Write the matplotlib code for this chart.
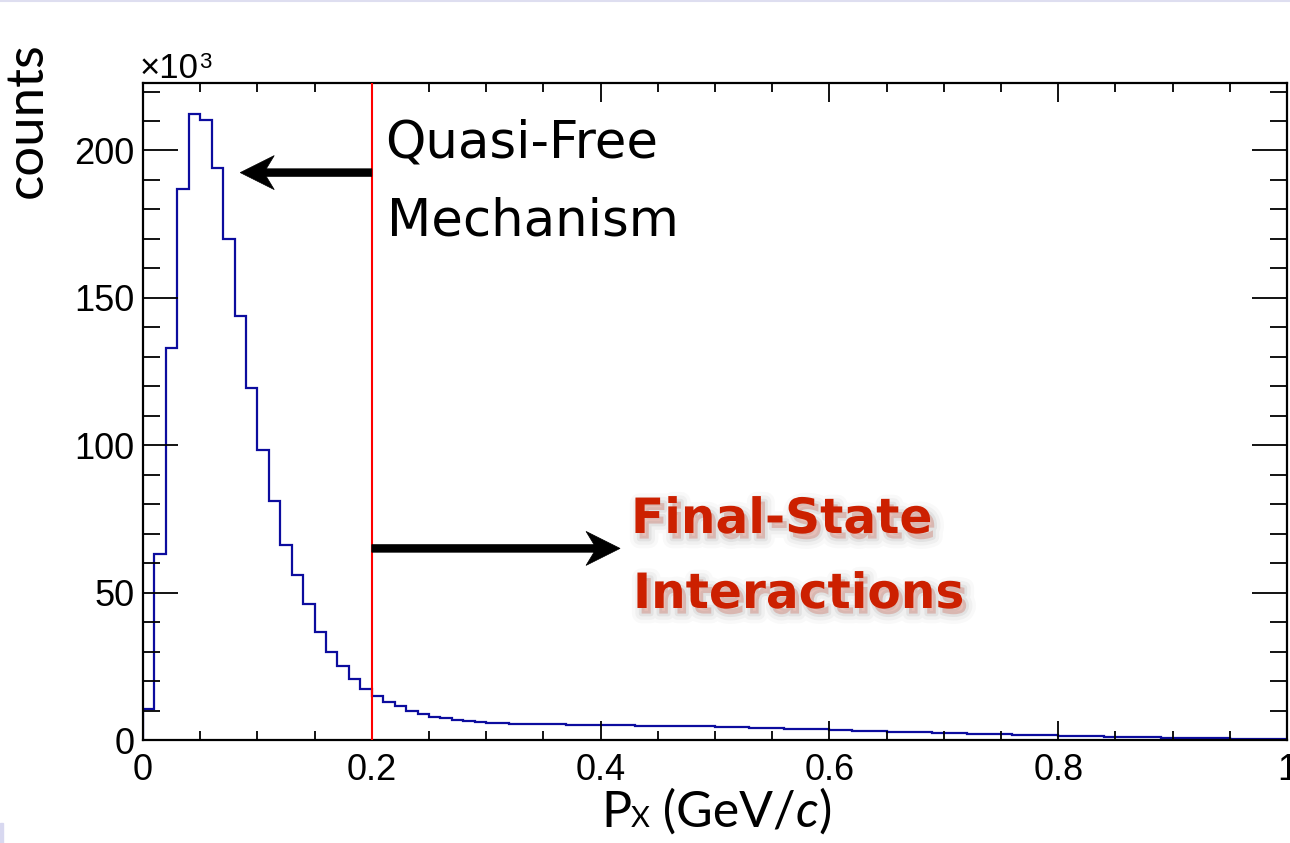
import numpy as np
import matplotlib
matplotlib.use("Agg")
import matplotlib.pyplot as plt
from matplotlib import patheffects as pe
from matplotlib.patches import Polygon, Rectangle
from matplotlib.lines import Line2D
from matplotlib.ticker import MultipleLocator
import matplotlib.transforms as mtransforms

# ---------------- data (counts in units of 10^3, 100 bins of 0.01 GeV/c) ----------------
x_min, x_max, n_bins = 0.0, 1.0, 100
counts_k = [
    10.4, 63.0, 133.0, 187.0, 212.5, 210.5, 194.0, 170.0, 144.0, 119.5,
    98.5, 81.0, 66.0, 56.0, 46.0, 36.5, 30.0, 25.0, 20.8, 17.2,
    15.0, 13.0, 11.4, 9.9, 8.7, 7.9, 7.3, 6.8, 6.3, 6.0,
    5.8, 5.6, 5.5, 5.4, 5.3, 5.3, 5.3, 5.2, 5.2, 5.2,
    5.1, 5.0, 5.0, 4.9, 4.9, 4.8, 4.8, 4.7, 4.7, 4.6,
    4.5, 4.4, 4.3, 4.2, 4.1, 4.0, 3.9, 3.8, 3.7, 3.6,
    3.4, 3.3, 3.2, 3.1, 2.9, 2.8, 2.7, 2.6, 2.6, 2.5,
    2.4, 2.3, 2.2, 2.1, 2.0, 1.9, 1.8, 1.8, 1.7, 1.6,
    1.5, 1.4, 1.3, 1.2, 1.1, 1.0, 0.95, 0.9, 0.85, 0.8,
    0.75, 0.7, 0.65, 0.6, 0.55, 0.5, 0.45, 0.4, 0.4, 0.35,
]
cut_value = 0.2
x_ticks = [0.0, 0.2, 0.4, 0.6, 0.8, 1.0]
x_tick_labels = ["0", "0.2", "0.4", "0.6", "0.8", "1"]
y_ticks = [0, 50, 100, 150, 200]
y_tick_labels = ["0", "50", "100", "150", "200"]
y_max = 223.0
arrow_qf_y, arrow_qf_tip = 192.5, 0.085
arrow_fsi_y, arrow_fsi_tip = 65.0, 0.417

W, H = 1290, 843
fig = plt.figure(figsize=(W / 100, H / 100), dpi=100)
ax = fig.add_axes([143 / W, 103 / H, 1144 / W, 657.3 / H])

edges = np.linspace(x_min, x_max, n_bins + 1)
ax.stairs(counts_k, edges, color="#0c0c9e", lw=1.6, baseline=0)
ax.axvline(cut_value, color="red", lw=1.5, zorder=3)

ax.set_xlim(x_min, x_max)
ax.set_ylim(0, y_max)
ax.set_xticks(x_ticks)
ax.set_xticklabels(x_tick_labels)
ax.set_yticks(y_ticks)
ax.set_yticklabels(y_tick_labels)
ax.xaxis.set_minor_locator(MultipleLocator(0.05))
ax.yaxis.set_minor_locator(MultipleLocator(10))
ax.tick_params(which="both", direction="in", top=True, right=True, width=1.3, color="black")
ax.tick_params(axis="x", which="major", length=13.7, pad=9)
ax.tick_params(axis="x", which="minor", length=6.5)
ax.tick_params(axis="y", which="major", length=25, pad=6)
ax.tick_params(axis="y", which="minor", length=12.5)
for lab in ax.get_xticklabels() + ax.get_yticklabels():
    lab.set_fontfamily("Liberation Sans")
    lab.set_fontsize(26)
for sp in ax.spines.values():
    sp.set_linewidth(1.6)

def fx(px):
    return px / W

def fy(py):
    return 1 - py / H

renderer = fig.canvas.get_renderer()

# y axis label
fig.text(fx(42), fy(120), "counts", rotation=90, rotation_mode="anchor",
         ha="center", va="baseline", fontsize=38, family="Lato")

# x10^3 multiplier
t10 = fig.text(fx(140), fy(78), "\u00d710", fontsize=25, family="Liberation Sans",
               ha="left", va="baseline")
bb10 = t10.get_window_extent(renderer)
fig.text(bb10.x1 / W, fy(68), "3", fontsize=16, family="Liberation Sans",
         ha="left", va="baseline")

# x axis label composed piecewise
xpos = 601.0
base = 827.0
for s, size, style in [("P", 36, "normal"), ("X", 21, "normal"),
                       (" (GeV/", 36, "normal"), ("c", 36, "italic"), (")", 36, "normal")]:
    t = fig.text(fx(xpos), fy(base), s, fontsize=size, style=style, family="Lato",
                 ha="left", va="baseline")
    bb = t.get_window_extent(renderer)
    xpos = bb.x1

# arrows (built in display pixels, anchored at data points)
def draw_arrow(tip_x, tail_x, y, point_left):
    tx, ty = ax.transData.transform((tip_x, y))
    ex, _ = ax.transData.transform((tail_x, y))
    s = 1 if point_left else -1
    L, Wd, h, d = 34, 17, 3.8, 8
    pts = [(tx, ty), (tx + s * L, ty + Wd), (tx + s * (L - d), ty + h), (ex, ty + h),
           (ex, ty - h), (tx + s * (L - d), ty - h), (tx + s * L, ty - Wd)]
    fig.add_artist(Polygon(pts, closed=True, facecolor="black", edgecolor="black",
                           lw=0.5, transform=mtransforms.IdentityTransform(), zorder=5))

draw_arrow(arrow_qf_tip, cut_value, arrow_qf_y, True)
draw_arrow(arrow_fsi_tip, cut_value, arrow_fsi_y, False)

# annotation texts
fig.text(fx(385), fy(157), "Quasi-Free", fontsize=37, family="DejaVu Sans",
         ha="left", va="baseline", color="black")
fig.text(fx(387), fy(235), "Mechanism", fontsize=37, family="DejaVu Sans",
         ha="left", va="baseline", color="black")

shadow = [pe.Stroke(linewidth=14, foreground="0.55", alpha=0.05, offset=(3, -4)),
          pe.Stroke(linewidth=9, foreground="0.55", alpha=0.08, offset=(3, -4)),
          pe.Stroke(linewidth=4, foreground="0.5", alpha=0.12, offset=(3, -4)),
          pe.Normal()]
fig.text(fx(631), fy(533), "Final-State", fontsize=35, family="DejaVu Sans",
         weight="bold", ha="left", va="baseline", color="#cc2000", path_effects=shadow)
fig.text(fx(633), fy(608), "Interactions", fontsize=35, family="DejaVu Sans",
         weight="bold", ha="left", va="baseline", color="#cc2000", path_effects=shadow)

# faint page decorations
fig.add_artist(Line2D([0, 1], [fy(1), fy(1)], color="#dedef0", lw=1.5,
                      transform=fig.transFigure))
fig.add_artist(Rectangle((0, 0), 3 / W, 20 / H, color="#d8d8f0",
                         transform=fig.transFigure))

fig.savefig("out.png", dpi=100)
